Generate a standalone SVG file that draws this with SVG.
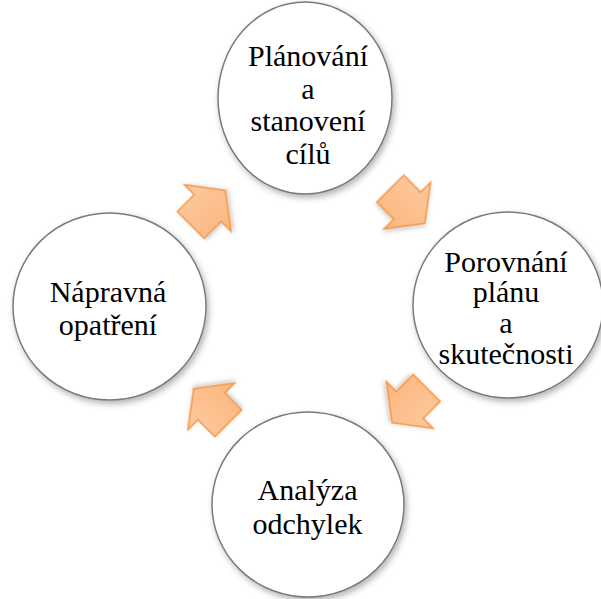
<svg xmlns="http://www.w3.org/2000/svg" xmlns:xlink="http://www.w3.org/1999/xlink" width="601" height="599" viewBox="0 0 601 599">
  <style>
    .node ellipse { fill: #ffffff; stroke: #7a7a7a; stroke-width: 1.5; filter: url(#soft); }
    .lbl { font-family: 'Liberation Serif', 'Times New Roman', serif; font-size: 30px; fill: #000000; text-anchor: middle; }
    .arrow { fill: url(#peach); stroke: #f79646; stroke-width: 1.5; stroke-linejoin: miter; filter: url(#soft2); }
  </style>
  <defs>
    <filter id="soft" x="-20%" y="-20%" width="140%" height="140%">
      <feDropShadow dx="2" dy="3" stdDeviation="3" flood-color="#000000" flood-opacity="0.3"/>
    </filter>
    <filter id="soft2" x="-30%" y="-30%" width="160%" height="160%">
      <feDropShadow dx="1.5" dy="2" stdDeviation="2" flood-color="#000000" flood-opacity="0.2"/>
    </filter>
    <linearGradient id="peach" x1="0" y1="0" x2="0" y2="1">
      <stop offset="0" stop-color="#fdca9e"/>
      <stop offset="1" stop-color="#fbb67e"/>
    </linearGradient>
    <!-- block arrow pointing along +x, origin at the middle of its tail -->
    <path id="blockArrow" d="M0,-19 L24,-19 L24,-33 L49,0 L24,33 L24,19 L0,19 Z"/>
  </defs>

  <rect width="601" height="599" fill="#ffffff"/>

  <g id="connectors">
    <use xlink:href="#blockArrow" class="arrow" transform="translate(390.3,188.7) rotate(45)"/>
    <use xlink:href="#blockArrow" class="arrow" transform="translate(426.7,388) rotate(135)"/>
    <use xlink:href="#blockArrow" class="arrow" transform="translate(228.3,423.3) rotate(-135)"/>
    <use xlink:href="#blockArrow" class="arrow" transform="translate(190.8,225) rotate(-45)"/>
  </g>

  <g id="planovani" class="node">
    <ellipse cx="305" cy="98" rx="87" ry="96"/>
    <text class="lbl" x="308" y="66">Plánování</text>
    <text class="lbl" x="308" y="98.5">a</text>
    <text class="lbl" x="308" y="131">stanovení</text>
    <text class="lbl" x="308" y="164">cílů</text>
  </g>

  <g id="porovnani" class="node">
    <ellipse cx="508" cy="305" rx="95" ry="93"/>
    <text class="lbl" x="506" y="272">Porovnání</text>
    <text class="lbl" x="506" y="302">plánu</text>
    <text class="lbl" x="506" y="333">a</text>
    <text class="lbl" x="506" y="364">skutečnosti</text>
  </g>

  <g id="analyza" class="node">
    <ellipse cx="308" cy="504.5" rx="96" ry="92.5"/>
    <text class="lbl" x="307.5" y="500">Analýza</text>
    <text class="lbl" x="307.5" y="534">odchylek</text>
  </g>

  <g id="napravna" class="node">
    <ellipse cx="109.5" cy="306.5" rx="96.5" ry="93.5"/>
    <text class="lbl" x="108" y="302">Nápravná</text>
    <text class="lbl" x="108" y="335">opatření</text>
  </g>
</svg>
